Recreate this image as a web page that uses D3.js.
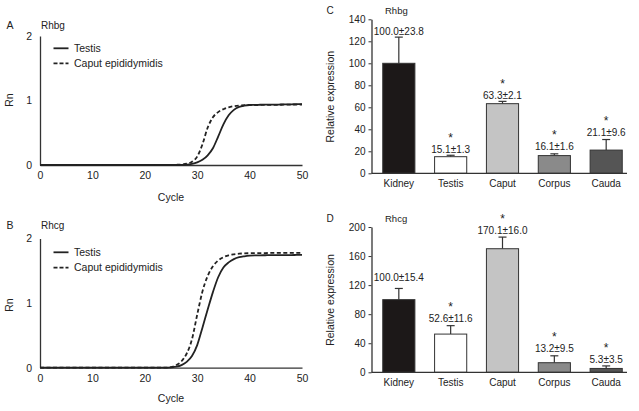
<!DOCTYPE html>
<html><head><meta charset="utf-8">
<script src="https://cdn.jsdelivr.net/npm/d3@7"></script>
<style>
body{margin:0;background:#fff;}
svg{display:block;font-family:"Liberation Sans",Arial,sans-serif;}
text{fill:#222;}
</style></head>
<body><svg id="c" width="639" height="411"></svg>
<script>
// ---- data ----
const cycles = d3.range(0, 51);
const rhbgTestis = [0,0,0,0,0,0,0,0,0,0,0,0,0,0,0,0,0,0,0,0,0,0,0,0,0,0,0,0.002,0.006,0.018,0.04,0.08,0.15,0.26,0.44,0.63,0.77,0.855,0.9,0.92,0.93,0.932,0.934,0.935,0.936,0.937,0.938,0.94,0.941,0.943,0.945];
const rhbgCaput  = [0,0,0,0,0,0,0,0,0,0,0,0,0,0,0,0,0,0,0,0,0,0,0,0,0,0,0.003,0.008,0.02,0.05,0.13,0.32,0.58,0.74,0.82,0.865,0.895,0.912,0.922,0.928,0.93,0.93,0.931,0.932,0.932,0.933,0.934,0.935,0.936,0.937,0.938];
const rhcgTestis = [0,0,0,0,0,0,0,0,0,0,0,0,0,0,0,0,0,0,0,0,0,0,0,0,0,0.005,0.015,0.04,0.09,0.18,0.35,0.62,0.9,1.17,1.4,1.55,1.63,1.68,1.71,1.725,1.735,1.74,1.74,1.741,1.742,1.742,1.743,1.744,1.744,1.745,1.745];
const rhcgCaput  = [0,0,0,0,0,0,0,0,0,0,0,0,0,0,0,0,0,0,0,0,0,0,0,0,0,0.008,0.04,0.1,0.22,0.44,0.82,1.18,1.42,1.57,1.66,1.71,1.74,1.755,1.765,1.77,1.772,1.774,1.775,1.775,1.776,1.776,1.777,1.777,1.778,1.778,1.778];
const cycleTicks = [0,10,20,30,40,50];
const rnTicks = [0,1,2];
const legendLabels = ["Testis","Caput epididymidis"];

const categories = ["Kidney","Testis","Caput","Corpus","Cauda"];
const rhbgMean = [100.0,15.1,63.3,16.1,21.1];
const rhbgSem  = [23.8,1.3,2.1,1.6,9.6];
const rhcgMean = [100.0,52.6,170.1,13.2,5.3];
const rhcgSem  = [15.4,11.6,16.0,9.5,3.5];
const significant = [false,true,true,true,true];
const rhbgTicks = [0,20,40,60,80,100,120,140];
const rhcgTicks = [0,40,80,120,160,200];
const barColors = ["#1c1818","#ffffff","#c4c4c4","#8a8a8a","#555555"];

const svg = d3.select("#c");
const axisColor = "#333";

function styleAxis(g){
  g.selectAll("path.domain").attr("stroke",axisColor).attr("stroke-width",1.3);
  g.selectAll(".tick line").attr("stroke",axisColor).attr("stroke-width",1);
  g.selectAll(".tick text").attr("fill","#222").style("font-family","'Liberation Sans',Arial,sans-serif");
}

function linePanel(opt){
  const x = d3.scaleLinear().domain([0,50]).range([40,302]);
  const y = d3.scaleLinear().domain([0,2]).range([opt.y0, opt.y2]);
  const g = svg.append("g");
  const gx = g.append("g").attr("transform",`translate(0,${opt.y0})`)
    .call(d3.axisBottom(x).tickValues(cycleTicks).tickSize(0).tickSizeOuter(0).tickPadding(7))
    .attr("font-size",10.5);
  styleAxis(gx);
  const gy = g.append("g").attr("transform","translate(40,0)")
    .call(d3.axisLeft(y).tickValues(rnTicks).tickFormat(d3.format("d")).tickSize(0).tickSizeOuter(0).tickPadding(8))
    .attr("font-size",10.5);
  styleAxis(gy);
  const line = d3.line().x((d,i)=>x(cycles[i])).y(d=>y(d)).curve(d3.curveMonotoneX);
  g.append("path").attr("d",line(opt.testis)).attr("fill","none").attr("stroke","#222").attr("stroke-width",1.8);
  g.append("path").attr("d",line(opt.caput)).attr("fill","none").attr("stroke","#222").attr("stroke-width",1.8).attr("stroke-dasharray","4,2.5");
  // legend
  [0,1].forEach(i=>{
    const ly = opt.legY[i];
    g.append("line").attr("x1",53.5).attr("x2",68.5).attr("y1",ly).attr("y2",ly)
      .attr("stroke","#222").attr("stroke-width",1.8).attr("stroke-dasharray", i? "4,2":null);
    g.append("text").attr("x",74).attr("y",ly).attr("dy","0.36em").attr("font-size",10.5).text(legendLabels[i]);
  });
  g.append("text").attr("x",10).attr("y",opt.ly).attr("dy","0.36em").attr("text-anchor","middle").attr("font-size",10.5).text(opt.letter);
  g.append("text").attr("x",41).attr("y",opt.ly).attr("dy","0.36em").attr("font-size",10).text(opt.gene);
  g.append("text").attr("transform",`translate(13,${opt.rnY}) rotate(-90)`).attr("text-anchor","middle").attr("font-size",10.5).text("Rn");
  g.append("text").attr("x",171).attr("y",opt.cycY).attr("text-anchor","middle").attr("font-size",10.5).text("Cycle");
}

linePanel({y0:165, y2:36, testis:rhbgTestis, caput:rhbgCaput, legY:[48.3,63.3], letter:"A", gene:"Rhbg", ly:25.5, rnY:100, cycY:201});
linePanel({y0:367.7, y2:238.5, testis:rhcgTestis, caput:rhcgCaput, legY:[252.3,267.7], letter:"B", gene:"Rhcg", ly:225, rnY:305, cycY:402});

function barPanel(opt){
  const x = d3.scaleBand().domain(categories).range([372.9,632.1]).paddingInner(0.38).paddingOuter(0.19);
  const y = d3.scaleLinear().domain([0,opt.max]).range([opt.y0, opt.yTop]);
  const g = svg.append("g");
  const gy = g.append("g").attr("transform","translate(371.5,0)")
    .call(d3.axisLeft(y).tickValues(opt.ticks).tickSize(3).tickSizeOuter(0).tickPadding(3))
    .attr("font-size",10);
  styleAxis(gy);
  // bars
  categories.forEach((c,i)=>{
    const m = opt.mean[i], s = opt.sem[i];
    const cx = x(c) + x.bandwidth()/2;
    g.append("line").attr("x1",cx).attr("x2",cx).attr("y1",y(m)).attr("y2",y(m+s)).attr("stroke","#333").attr("stroke-width",1.2);
    g.append("line").attr("x1",cx-4).attr("x2",cx+4).attr("y1",y(m+s)).attr("y2",y(m+s)).attr("stroke","#333").attr("stroke-width",1.2);
    g.append("rect").attr("x",x(c)).attr("width",x.bandwidth()).attr("y",y(m)).attr("height",opt.y0-y(m))
      .attr("fill",barColors[i]).attr("stroke","#333").attr("stroke-width",1);
    const lb = y(m+s) - opt.gap[i];
    g.append("text").attr("x",cx).attr("y",lb).attr("text-anchor","middle").attr("font-size",10)
      .text(d3.format(".1f")(m)+"±"+d3.format(".1f")(s));
    if(significant[i]) g.append("text").attr("x",cx).attr("y",lb-11).attr("text-anchor","middle").attr("font-size",12).text("*");
  });
  const gx = g.append("g").attr("transform",`translate(0,${opt.y0})`)
    .call(d3.axisBottom(x).tickSize(0).tickSizeOuter(0).tickPadding(7))
    .attr("font-size",10);
  styleAxis(gx);
  gx.select("path.domain").attr("d",`M${371.5-x.range()[0]+x.range()[0]},0H627`);
  g.append("text").attr("x",330).attr("y",opt.ly).attr("dy","0.36em").attr("text-anchor","middle").attr("font-size",10).text(opt.letter);
  g.append("text").attr("x",385).attr("y",opt.ly).attr("dy","0.36em").attr("font-size",9.5).text(opt.gene);
  g.append("text").attr("transform",`translate(334,${opt.labY}) rotate(-90)`).attr("text-anchor","middle").attr("font-size",10.5).text("Relative expression");
}

barPanel({max:140, y0:173.3, yTop:19.3, ticks:rhbgTicks, mean:rhbgMean, sem:rhbgSem, gap:[2,2,2.5,3.5,3.5], letter:"C", gene:"Rhbg", ly:10.7, labY:96.7});
barPanel({max:200, y0:372.3, yTop:227, ticks:rhcgTicks, mean:rhcgMean, sem:rhcgSem, gap:[7,3.7,3.5,4,3.3], letter:"D", gene:"Rhcg", ly:218.3, labY:300});
</script></body></html>
